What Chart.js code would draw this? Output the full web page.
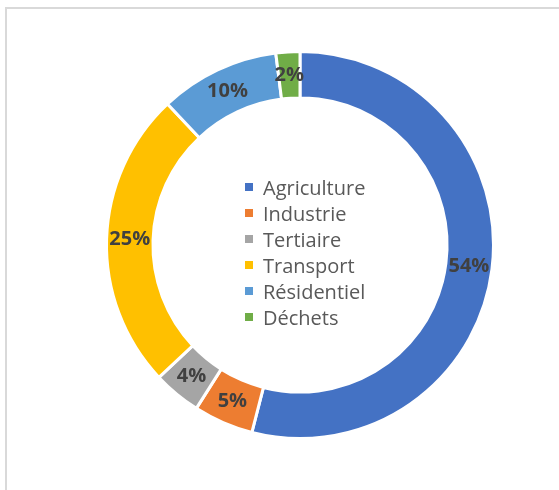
<!DOCTYPE html>
<html>
<head>
<meta charset="utf-8">
<script src="https://cdn.jsdelivr.net/npm/chart.js@4/dist/chart.umd.min.js"></script>
<style>
  body { margin: 0; background: #fff; }
  #frame { position: absolute; left: 5px; top: 7px; width: 600px; height: 520px; border: 2px solid #d9d9d9; }
  #wrap { position: absolute; left: 0; top: 0; width: 559px; height: 490px; }
</style>
</head>
<body>
<div id="frame"></div>
<div id="wrap"><canvas id="emissions"></canvas></div>
<script>
// secteurs et parts (%)
var sectorLabels = ['Agriculture', 'Industrie', 'Tertiaire', 'Transport', 'Résidentiel', 'Déchets'];
var sectorValues = [54, 5, 4, 25, 10, 2];
var sectorColors = ['#4472C4', '#ED7D31', '#A5A5A5', '#FFC000', '#5B9BD5', '#70AD47'];

// percent labels on the ring
var ringLabels = {
    id: 'ringLabels',
    afterDatasetsDraw: function (chart) {
        var ctx = chart.ctx;
        var meta = chart.getDatasetMeta(0);
        ctx.save();
        ctx.font = 'bold 20px "Open Sans"';
        ctx.fillStyle = '#404040';
        ctx.textAlign = 'center';
        ctx.textBaseline = 'middle';
        meta.data.forEach(function (arc, i) {
            var p = arc.tooltipPosition();
            ctx.fillText(sectorValues[i] + '%', p.x, p.y);
        });
        ctx.restore();
    }
};

// legend drawn in the hole
var centerLegend = {
    id: 'centerLegend',
    afterDraw: function (chart) {
        var ctx = chart.ctx;
        var meta = chart.getDatasetMeta(0);
        var cx = meta.data[0].x;
        var cy = meta.data[0].y;
        var rowH = 26;
        var x0 = cx - 55;
        var y0 = cy - 50;   // baseline of first row
        ctx.save();
        ctx.font = '20px "Open Sans"';
        ctx.textBaseline = 'alphabetic';
        ctx.textAlign = 'left';
        for (var i = 0; i < sectorLabels.length; i++) {
            var y = y0 + i * rowH;
            ctx.fillStyle = sectorColors[i];
            ctx.fillRect(x0, y - 12, 8, 8);
            ctx.fillStyle = '#595959';
            ctx.fillText(sectorLabels[i], x0 + 18, y);
        }
        ctx.restore();
    }
};

new Chart(document.getElementById('emissions'), {
    type: 'doughnut',
    data: {
        labels: sectorLabels,
        datasets: [{
            data: sectorValues,
            backgroundColor: sectorColors,
            borderColor: '#ffffff',
            borderWidth: 3
        }]
    },
    options: {
        responsive: true,
        maintainAspectRatio: false,
        animation: false,
        cutout: '76%',
        layout: { padding: { top: 50, bottom: 50, left: 105, right: 64 } },
        plugins: {
            legend: { display: false },
            tooltip: { enabled: false }
        }
    },
    plugins: [ringLabels, centerLegend]
});
</script>
</body>
</html>
